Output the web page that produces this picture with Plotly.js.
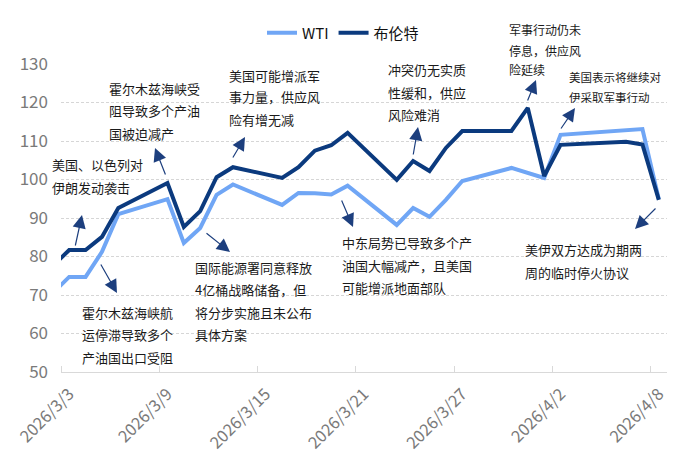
<!DOCTYPE html>
<html>
<head>
<meta charset="utf-8">
<script src="https://cdn.plot.ly/plotly-3.0.1.min.js"></script>
<style>html,body{margin:0;padding:0;background:#fff}#chart{width:680px;height:465px}</style>
</head>
<body>
<div id="chart"></div>
<script>
// ---- data ----
var dates = ["2026-03-02","2026-03-03","2026-03-04","2026-03-05","2026-03-06",
  "2026-03-09","2026-03-10","2026-03-11","2026-03-12","2026-03-13",
  "2026-03-16","2026-03-17","2026-03-18","2026-03-19","2026-03-20",
  "2026-03-23","2026-03-24","2026-03-25","2026-03-26","2026-03-27",
  "2026-03-30","2026-03-31","2026-04-01","2026-04-02",
  "2026-04-06","2026-04-07","2026-04-08"];
var wti = [70.5,74.7,74.7,81.2,91.0,
  94.9,83.5,87.4,96.0,98.7,
  93.4,96.5,96.4,96.1,98.4,
  88.2,92.6,90.3,94.7,99.6,
  103.0,101.8,100.4,111.6,
  112.8,113.1,94.9];
var brent = [77.5,81.7,81.7,85.1,92.6,
  99.1,87.7,91.8,100.6,103.2,
  100.4,103.2,107.5,108.9,112.1,
  99.9,104.8,102.2,108.2,112.6,
  112.6,118.6,100.9,109.0,
  109.8,109.1,94.7];
var tickDates = ["2026-03-03","2026-03-09","2026-03-15","2026-03-21","2026-03-27","2026-04-02","2026-04-08"];
var tickLabels = ["2026/3/3","2026/3/9","2026/3/15","2026/3/21","2026/3/27","2026/4/2","2026/4/8"];
var slotEdges = ["2026-03-02 12:00","2026-03-08 12:00","2026-03-14 12:00","2026-03-20 12:00","2026-03-26 12:00","2026-04-01 12:00","2026-04-07 12:00"];
var seriesNames = ["WTI","布伦特"];

var notes = [
  {lines:["美国、以色列对","伊朗发动袭击"], x:50, y:[164,187], size:13},
  {lines:["霍尔木兹海峡受","阻导致多个产油","国被迫减产"], x:107, y:[88,110,133], size:13},
  {lines:["美国可能增派军","事力量，供应风","险有增无减"], x:227, y:[75,97,120], size:13},
  {lines:["霍尔木兹海峡航","运停滞导致多个","产油国出口受阻"], x:80, y:[312,334,357], size:13},
  {lines:["国际能源署同意释放","4亿桶战略储备，但","将分步实施且未公布","具体方案"], x:193, y:[267,289,312,334], size:13},
  {lines:["中东局势已导致多个产","油国大幅减产，且美国","可能增派地面部队"], x:340, y:[242,265,287], size:13},
  {lines:["冲突仍无实质","性缓和，供应","风险难消"], x:386, y:[69,92,114], size:13},
  {lines:["军事行动仍未","停息，供应风","险延续"], x:507, y:[29,50,70], size:12},
  {lines:["美国表示将继续对","伊采取军事行动"], x:567, y:[77,97], size:11.5},
  {lines:["美伊双方达成为期两","周的临时停火协议"], x:523, y:[249,272], size:13}
];
var arrows = [
  [75,247,82,215],[166,176,155,148],[232,159,245,137],[100,263,117,293],
  [205,232,230,252],[341,199,353,227],[413,156,418,127],[527,102,536,80],
  [560,130,575,108],[657,207,635,229]
];

// ---- layout helpers ----
var M = {l:61, r:13, t:64, b:93};
var W = 680, H = 465;
var pw = W - M.l - M.r, ph = H - M.t - M.b;
function px(x){ return (x - M.l)/pw; }
function py(y){ return (H - M.b - y)/ph; }
var FONT = '"Noto Sans CJK SC", "Noto Sans", sans-serif';

var annotations = [];
notes.forEach(function(n){
  n.lines.forEach(function(t,i){
    annotations.push({xref:'paper', yref:'paper', x:px(n.x), y:py(n.y[i]),
      xanchor:'left', yanchor:'middle', text:t, showarrow:false,
      font:{family:FONT, size:n.size, color:'#1a1a1a'}});
  });
});
arrows.forEach(function(a){
  annotations.push({xref:'paper', yref:'paper', x:px(a[2]), y:py(a[3]),
    ax:a[0]-a[2], ay:a[1]-a[3], axref:'pixel', ayref:'pixel',
    text:'', showarrow:true, arrowhead:2, arrowsize:2.2, arrowwidth:1.2,
    arrowcolor:'#1d3f7e', standoff:0, startstandoff:0});
});

var traces = [
  {x:dates, y:wti, name:seriesNames[0], type:'scatter', mode:'lines',
   line:{color:'#70a6f5', width:4}},
  {x:dates, y:brent, name:seriesNames[1], type:'scatter', mode:'lines',
   line:{color:'#0b3a7e', width:4}}
];

var layout = {
  width:W, height:H, margin:M,
  paper_bgcolor:'#fff', plot_bgcolor:'#fff',
  showlegend:true,
  legend:{orientation:'h', x:px(262), y:py(33), xanchor:'left', yanchor:'middle',
    font:{family:FONT, size:15, color:'#111'}, itemwidth:30, bgcolor:'rgba(0,0,0,0)'},
  xaxis:{type:'date', range:["2026-03-02 12:00","2026-04-08 12:00"],
    tickmode:'array', tickvals:tickDates, ticktext:tickLabels, tickangle:-45,
    ticks:'', showgrid:false, zeroline:false, ticklabelstandoff:5,
    showline:true, linecolor:'#d9d9d9', linewidth:1,
    tickfont:{family:FONT, size:16.5, color:'#7a7a7a'},
    minor:{tickmode:'array', tickvals:slotEdges, ticks:'inside', ticklen:6, tickcolor:'#d9d9d9', tickwidth:1, showgrid:false}
  },
  yaxis:{range:[50,130], dtick:10, tick0:50, showline:false, zeroline:false,
    showgrid:true, gridcolor:'#d6d6d6', griddash:'3px,2px', gridwidth:1,
    ticks:'', ticklabelstandoff:12,
    tickfont:{family:FONT, size:17, color:'#7a7a7a'}},
  annotations:annotations
};

Plotly.newPlot('chart', traces, layout, {displayModeBar:false, staticPlot:true});
</script>
</body>
</html>
